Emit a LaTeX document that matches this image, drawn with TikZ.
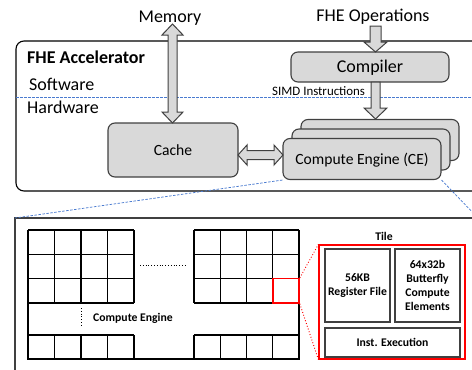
\documentclass[tikz,border=0pt]{standalone}
\usepackage{fontspec}
\setmainfont{Carlito}
\usetikzlibrary{calc}
\definecolor{boxgray}{HTML}{D9D9D9}
\definecolor{edgegray}{HTML}{404040}
\definecolor{lineblue}{HTML}{4A7BD0}
\begin{document}
\begin{tikzpicture}[x=1pt,y=-1pt,
  gbox/.style={draw=edgegray, fill=boxgray, line width=1.1pt, rounded corners=7pt, inner sep=0pt},
  blockarrow/.style={draw=edgegray, fill=boxgray, line width=1pt, line join=miter},
  bluedash/.style={draw=lineblue, line width=0.75pt, dash pattern=on 2.5pt off 1.5pt},
  big/.style={font=\fontsize{18}{21}\selectfont},
  mid/.style={font=\fontsize{15.6}{18}\selectfont},
  small/.style={font=\fontsize{12.9}{15}\selectfont},
  tiny/.style={font=\bfseries\fontsize{11.7}{14}\selectfont},
  cell/.style={draw=black, line width=1.1pt},
  tilebox/.style={draw=edgegray, line width=1.3pt, inner sep=0pt, align=center, tiny},
  reddot/.style={draw=red, line width=0.9pt, dotted}
]
\useasboundingbox (0,0) rectangle (472,370);
\clip (0,0) rectangle (472,370);

% ---------- accelerator box ----------
\draw[black, line width=1.1pt, rounded corners=8pt] (16,41) rectangle (495,191);
\node[big, anchor=base west, inner sep=0pt] (acc) at (27,63) {\bfseries FHE Accelerator};
\node[big, anchor=base west, inner sep=0pt] (sw) at (29,90) {Software};
\node[big, anchor=base west, inner sep=0pt] (hw) at (27,113) {Hardware};
\coordinate (divL) at (16,97);
\coordinate (divR) at (472,97);
\draw[bluedash] (divL) -- (divR);

% ---------- top labels ----------
\node[big, anchor=base, inner sep=0pt] (mem) at (170,22) {Memory};
\node[big, anchor=base, inner sep=0pt] (ops) at (373,21) {FHE Operations};

% ---------- boxes ----------
\node[gbox, minimum width=130pt, minimum height=54pt, mid, text height=10pt, text depth=0pt] (cache) at (173,150) {Cache};
\node[gbox, minimum width=158pt, minimum height=30pt, big, text height=11.6pt, text depth=0pt] (comp) at (370,67) {Compiler};
\node[gbox, minimum width=158pt, minimum height=41pt] (ce3) at (380,140) {};
\node[gbox, minimum width=158pt, minimum height=41pt] (ce2) at (371,149.5) {};
\node[gbox, minimum width=158pt, minimum height=41pt, mid, text height=10pt, text depth=0pt] (ce1) at (362,159) {Compute Engine (CE)};

\node[small, anchor=base west, inner sep=0pt] (simd) at (272,95) {SIMD Instructions};

% ---------- block arrows ----------
% Memory <-> Cache
\draw[blockarrow] (172.5,24) -- (183,35) -- (177,35) -- (177,112) -- (183,112) -- (172.5,123)
  -- (162,112) -- (168,112) -- (168,35) -- (162,35) -- cycle;
% FHE Operations -> Compiler
\draw[blockarrow] (370,26) -- (381,26) -- (381,42) -- (387,42) -- (375.5,52) -- (364,42) -- (370,42) -- cycle;
% Compiler -> CE
\draw[blockarrow] (371,82) -- (380,82) -- (380,108) -- (387,108) -- (375.5,119) -- (364,108) -- (371,108) -- cycle;
% Cache <-> CE
\draw[blockarrow] (238,155) -- (247,145) -- (247,150.5) -- (274,150.5) -- (274,145) -- (283,155)
  -- (274,165) -- (274,159.5) -- (247,159.5) -- (247,165) -- cycle;

% ---------- zoomed compute engine ----------
\coordinate (zTL) at (15,218);
\coordinate (zTR) at (478,218);
\draw[edgegray, line width=1.8pt] (15,390) -- (zTL) -- (495,218);
\draw[bluedash] (ce1.south west) -- (zTL);
\draw[bluedash] (ce1.south east) -- (zTR);

% grid
\foreach \x in {28,54.5,81,107.5,134} \draw[cell] (\x,230) -- (\x,303);
\foreach \y in {230,254.33,278.67,303} \draw[cell] (28,\y) -- (134,\y);
\foreach \x in {194,220.25,246.5,272.75,299} \draw[cell] (\x,230) -- (\x,303);
\foreach \y in {230,254.33,278.67,303} \draw[cell] (194,\y) -- (299,\y);
\foreach \x in {28,54.5,81,107.5,134} \draw[cell] (\x,335) -- (\x,359);
\foreach \x in {194,220.25,246.5,272.75,299} \draw[cell] (\x,335) -- (\x,359);
\draw[cell] (28,335) -- (134,335);
\draw[cell] (194,335) -- (299,335);
\draw[cell, line width=1.5pt] (28,230) -- (28,359) -- (299,359) -- (299,230);

\draw[black, line width=0.8pt, dotted] (140,265) -- (187,265);
\draw[black, line width=0.8pt, dotted] (81,308) -- (81,325);
\node[tiny, anchor=base, inner sep=0pt] (cel) at (133,321) {Compute Engine};

% tile
\node[draw=red, line width=1.6pt, minimum width=26.25pt, minimum height=24.33pt, inner sep=0pt] (tsel) at (285.875,290.835) {};
\node[draw=red, line width=1.2pt, minimum width=146pt, minimum height=114pt, inner sep=0pt] (tile) at (392,302) {};
\draw[reddot] (tsel.north east) -- (tile.north west);
\draw[reddot] (tsel.south east) -- (tile.south west);
\node[tiny, anchor=base, inner sep=0pt] (tilel) at (384,240) {Tile};
\node[tilebox, minimum width=65pt, minimum height=73pt] (rf) at (357.5,285.5) {56KB\\Register File};
\node[tilebox, minimum width=65pt, minimum height=73pt] (bf) at (427.5,285.5) {64x32b\\Butterfly\\Compute\\Elements};
\node[tilebox, minimum width=135pt, minimum height=29pt] (ie) at (392.5,342.5) {Inst. Execution};
\end{tikzpicture}
\end{document}
